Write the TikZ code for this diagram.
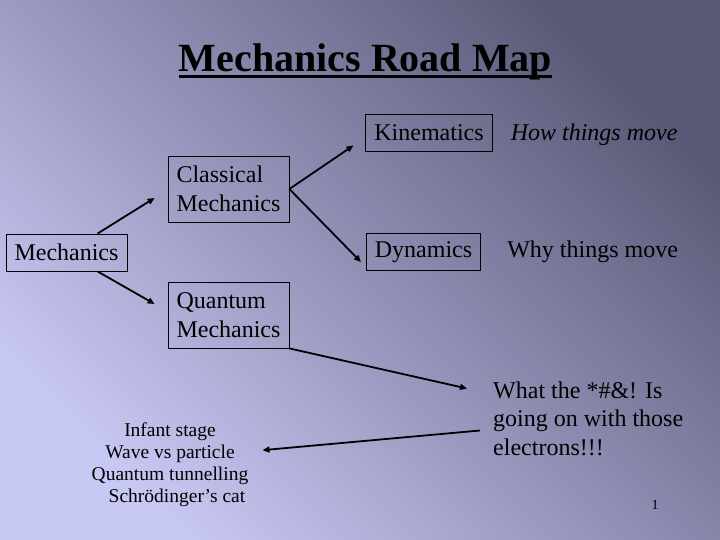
\documentclass[tikz,border=0pt]{standalone}
\usepackage{fontspec}
\setmainfont{Liberation Serif}
\usepackage{tikz}
\usetikzlibrary{arrows.meta,positioning,calc}
\definecolor{MapLight}{HTML}{C8C8F4}
\definecolor{MapMid}{HTML}{A0A0C8}
\definecolor{MapDark}{HTML}{5A5A78}
\tikzset{
  map/box/.style={draw, line width=0.8pt, inner xsep=8.5pt, inner ysep=0pt, minimum height=37pt, align=left, font=\fontsize{24}{28.8}\selectfont},
  map/tallbox/.style={map/box, minimum height=66pt},
  map/text/.style={inner sep=0pt, align=left, font=\fontsize{24}{28.5}\selectfont},
  map/list/.style={inner sep=0pt, align=center, font=\fontsize{19.5}{22}\selectfont},
  map/title/.style={inner sep=0pt, font=\bfseries\fontsize{40}{48}\selectfont},
  map/underline/.style={line width=3pt},
  map/arrow/.style={line width=1.8pt, -{Triangle[length=7pt,width=6pt]}},
  map/page/.style={inner sep=0pt, font=\fontsize{14}{16}\selectfont}
}

\begin{document}
\begin{tikzpicture}[x=1pt, y=-1pt]
  \shade[left color=MapDark, middle color=MapMid, right color=MapLight, shading angle=-45] (0,0) rectangle (720,540);
  \useasboundingbox (0,0) rectangle (720,540);

  \node[map/title, anchor=base] (title) at (365.5,72) {Mechanics Road Map};
  \draw[map/underline] ($(title.base west)+(0,5)$) -- ($(title.base east)+(0,5)$);

  \node[map/box] (mech) at (66.5,252.5) {Mechanics};
  \node[map/tallbox] (classical) at (228.5,189) {Classical\\Mechanics};
  \node[map/tallbox] (quantum) at (228.5,315) {Quantum\\Mechanics};
  \node[map/box] (kin) at (429,132.5) {Kinematics};
  \node[map/box] (dyn) at (423.5,252) {Dynamics};
  \node[map/text, right=18pt of kin.base east, anchor=base west] (how) {\itshape How things move};
  \node[map/text, right=26pt of dyn.base east, anchor=base west] (why) {Why things move};

  \node[map/text, anchor=north west] (what) at (493,381.5) {What the *\#\&! Is\\going on with those\\electrons!!!};
  \node[map/list, anchor=north] (notes) at (170,423) {Infant stage\\Wave vs particle\\Quantum tunnelling\\\hspace*{14pt}Schrödinger's cat};
  \node[map/page, anchor=base] (page) at (655,509) {1};

  \draw[map/arrow] ($(mech.north)+(31,0)$) -- ($(classical.west)+(-13,9)$);
  \draw[map/arrow] ($(mech.south)+(31,0)$) -- ($(quantum.west)+(-13,-11)$);
  \draw[map/arrow] (classical.east) -- ($(kin.west)+(-12,13)$);
  \draw[map/arrow] (classical.east) -- ($(dyn.west)+(-5,10)$);
  \draw[map/arrow] (quantum.south east) -- ($(what.north west)+(-26,7)$);
  \draw[map/arrow] ($(what.north west)+(-13,49)$) -- ($(notes.east)+(14,-15)$);
\end{tikzpicture}
\end{document}
